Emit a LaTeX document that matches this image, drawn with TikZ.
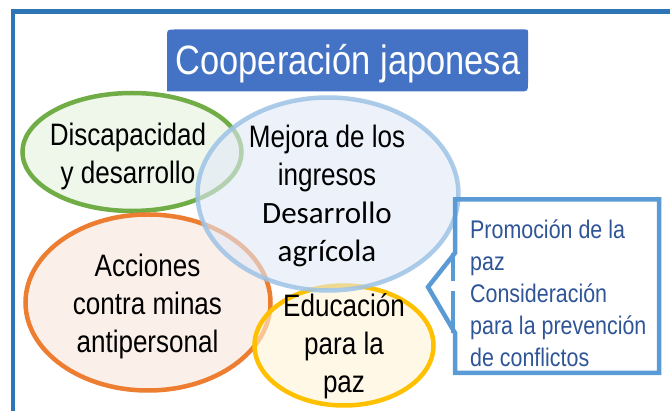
\documentclass[tikz,border=0pt]{standalone}
\usepackage{fontspec}
\usetikzlibrary{shapes.geometric}
\newfontfamily\narrowfont{Liberation Sans}[FakeStretch=0.84]
\newfontfamily\carlfont{Carlito}
\definecolor{framebl}{HTML}{2E75B6}
\definecolor{titlebl}{HTML}{4472C4}
\definecolor{callbl}{HTML}{5B9BD5}
\definecolor{calltxt}{HTML}{2F5597}
\definecolor{grnline}{HTML}{70AD47}
\definecolor{grnfill}{HTML}{EFF6EA}
\definecolor{bluline}{HTML}{9DC3E6}
\definecolor{blufill}{HTML}{E1E9F7}
\definecolor{orgline}{HTML}{ED7D31}
\definecolor{orgfill}{HTML}{FBEFE9}
\definecolor{ylwline}{HTML}{FFC000}
\definecolor{ylwfill}{HTML}{FFF4D6}
\begin{document}
\begin{tikzpicture}[x=1pt,y=-1pt,
  bubble/.style={ellipse, draw, line width=4.5pt, inner sep=0pt},
  bodytext/.style={font=\narrowfont\fontsize{31}{38}\selectfont, align=center, anchor=base, inner sep=0pt, text=black},
  calltext/.style={font=\narrowfont\fontsize{25.5}{32}\selectfont, align=left, anchor=base west, inner sep=0pt, text=calltxt},
  titletext/.style={font=\narrowfont\fontsize{41}{49}\selectfont, anchor=base, inner sep=0pt, text=white},
  callline/.style={draw=callbl, line width=4.5pt}]
\useasboundingbox (0,0) rectangle (670,411);
\begin{scope}
\clip (0,0) rectangle (670,411);
% outer frame
\draw[framebl, line width=4.5pt] (13,11.7) rectangle (700,460);
% title box
\fill[titlebl] (167,91.5) -- (167,37.5) .. controls (167,29.5) .. (175,29.5)
  -- (525,29.5) .. controls (528,29.5) .. (528,32.5)
  -- (528,82.5) .. controls (528,91.5) .. (519,91.5) -- cycle;
\node[titletext] (title) at (348,75) {Cooperación japonesa};
% bubbles
\node[bubble, draw=grnline, fill=grnfill, minimum width=219pt, minimum height=118pt] (green) at (132,152) {};
\node[bubble, draw=orgline, fill=orgfill, minimum width=245pt, minimum height=176pt] (orange) at (148,302.5) {};
\node[bubble, draw=ylwline, fill=ylwfill, fill opacity=0.6, minimum width=179pt, minimum height=120pt] (yellow) at (344,345.5) {};
\node[bubble, draw=bluline, draw opacity=0.85, fill=blufill, fill opacity=0.6, minimum width=261pt, minimum height=193pt] (blue) at (328,194) {};
% texts (base anchor = baseline of last line)
\node[bodytext] (greentext) at (128,184) {Discapacidad\\y desarrollo};
\node[bodytext] (bluetext) at (327,262) {Mejora de los\\ingresos\\{\carlfont\fontsize{31}{38}\selectfont Desarrollo}\\{\carlfont\fontsize{31}{38}\selectfont agrícola}};
\node[bodytext] (orangetext) at (147.5,353) {Acciones\\contra minas\\antipersonal};
\node[bodytext] (yellowtext) at (344,393) {Educación\\para la\\paz};
% callout
\coordinate (ctl) at (455,199.5);
\coordinate (ctr) at (659,199.5);
\coordinate (cbr) at (659,373);
\coordinate (cbl) at (455,373);
\coordinate (cwb) at (455,333);
\coordinate (ctip) at (428,287);
\coordinate (cwt) at (455,253);
\draw[callline, line join=miter] (ctl) -- (ctr) -- (cbr) -- (cbl) -- (cwb) -- (ctip) -- (cwt) -- cycle;
\coordinate (gap1a) at (453,253);
\coordinate (gap1b) at (453,281);
\coordinate (gap2a) at (453,291);
\coordinate (gap2b) at (453,333);
\draw[callline] (gap1a) -- (gap1b);
\draw[callline] (gap2a) -- (gap2b);
\node[calltext] (calltxtnode) at (470,367) {Promoción de la\\paz\\Consideración\\para la prevención\\de conflictos};
\end{scope}
\end{tikzpicture}
\end{document}
